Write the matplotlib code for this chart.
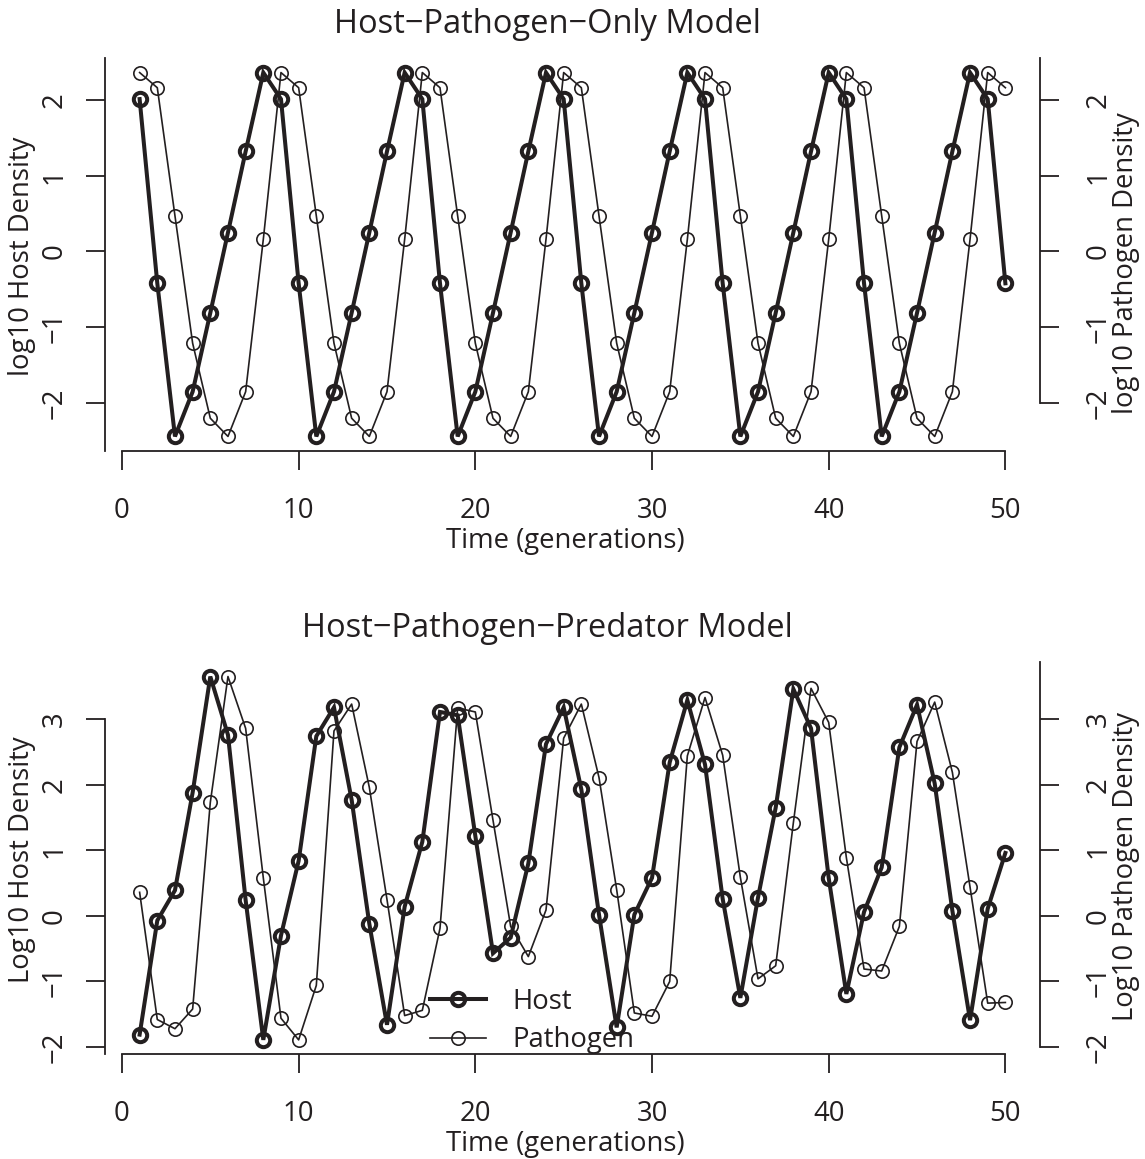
import matplotlib
matplotlib.use("Agg")
import matplotlib.pyplot as plt

plt.rcParams['font.family'] = ['Open Sans', 'DejaVu Sans']
plt.rcParams['axes.unicode_minus'] = True

INK = '#231f20'

# ---------------- data ----------------
time = list(range(1, 51))

# Host-Pathogen-Only model (log10 densities)
hp_host = [2.01, -0.42, -2.44, -1.85, -0.81, 0.25, 1.32, 2.36,
           2.01, -0.42, -2.44, -1.85, -0.81, 0.25, 1.32, 2.36,
           2.01, -0.42, -2.44, -1.85, -0.81, 0.25, 1.32, 2.36,
           2.01, -0.42, -2.44, -1.85, -0.81, 0.25, 1.32, 2.36,
           2.01, -0.42, -2.44, -1.85, -0.81, 0.25, 1.32, 2.36,
           2.01, -0.42, -2.44, -1.85, -0.81, 0.25, 1.32, 2.36,
           2.01, -0.42]
hp_pathogen = [2.36, 2.16, 0.47, -1.21, -2.20, -2.44, -1.85, 0.16,
               2.36, 2.16, 0.47, -1.21, -2.20, -2.44, -1.85, 0.16,
               2.36, 2.16, 0.47, -1.21, -2.20, -2.44, -1.85, 0.16,
               2.36, 2.16, 0.47, -1.21, -2.20, -2.44, -1.85, 0.16,
               2.36, 2.16, 0.47, -1.21, -2.20, -2.44, -1.85, 0.16,
               2.36, 2.16, 0.47, -1.21, -2.20, -2.44, -1.85, 0.16,
               2.36, 2.16]

# Host-Pathogen-Predator model (log10 densities)
hpp_host = [-1.81, -0.07, 0.39, 1.88, 3.65, 2.76, 0.24, -1.89, -0.30, 0.84,
            2.74, 3.18, 1.77, -0.12, -1.66, 0.14, 1.13, 3.11, 3.06, 1.22,
            -0.57, -0.33, 0.80, 2.62, 3.18, 1.93, 0.02, -1.70, 0.02, 0.58,
            2.34, 3.29, 2.31, 0.26, -1.25, 0.28, 1.65, 3.46, 2.86, 0.58,
            -1.19, 0.06, 0.74, 2.57, 3.22, 2.02, 0.08, -1.59, 0.11, 0.96]
hpp_pathogen = [0.36, -1.58, -1.72, -1.42, 1.73, 3.65, 2.86, 0.58, -1.56, -1.89,
                -1.06, 2.82, 3.23, 1.96, 0.25, -1.52, -1.44, -0.19, 3.17, 3.11,
                1.46, -0.16, -0.62, 0.09, 2.71, 3.23, 2.11, 0.40, -1.48, -1.53,
                -1.00, 2.44, 3.33, 2.45, 0.59, -0.96, -0.76, 1.42, 3.47, 2.95,
                0.89, -0.81, -0.84, -0.16, 2.66, 3.26, 2.19, 0.44, -1.33, -1.32]

panels = [
    dict(title='Host\u2212Pathogen\u2212Only Model', host=hp_host, path=hp_pathogen,
         ylab_l='log10 Host Density', ylab_r='log10 Pathogen Density',
         yticks=[-2, -1, 0, 1, 2], legend=False),
    dict(title='Host\u2212Pathogen\u2212Predator Model', host=hpp_host, path=hpp_pathogen,
         ylab_l='Log10 Host Density', ylab_r='Log10 Pathogen Density',
         yticks=[-2, -1, 0, 1, 2, 3], legend=True),
]
xticks = [0, 10, 20, 30, 40, 50]

# ---------------- figure ----------------
W, H = 1145, 1159
fig = plt.figure(figsize=(W / 100, H / 100), dpi=100)

# axes rectangles in pixels: (left, top, right, bottom)
rects = [(105, 58, 1040, 451), (105, 662, 1040, 1054.4)]

FS = 19.8
TFS = 23.5

def rlim(vals):
    lo, hi = min(vals), max(vals)
    pad = 0.04 * (hi - lo)
    return lo - pad, hi + pad

for p, (l, t, r, b) in zip(panels, rects):
    ax = fig.add_axes([l / W, 1 - b / H, (r - l) / W, (b - t) / H])
    axr = ax.twinx()
    xlo, xhi = rlim(time)
    ylo, yhi = rlim(p['host'])
    plo, phi = rlim(p['path'])
    ax.set_xlim(xlo, xhi)
    ax.set_ylim(ylo, yhi)
    axr.set_ylim(plo, phi)

    h_line, = ax.plot(time, p['host'], color=INK, lw=2.9, marker='o', ms=9.6,
                      mfc='none', mec=INK, mew=2.9, solid_joinstyle='miter')
    p_line, = axr.plot(time, p['path'], color=INK, lw=1.2, marker='o', ms=9.6,
                       mfc='none', mec=INK, mew=1.2)

    for a in (ax, axr):
        a.spines['top'].set_visible(False)
        for s in a.spines.values():
            s.set_color(INK)
            s.set_linewidth(1.3)
        a.tick_params(direction='out', length=14, width=1.3, color=INK,
                      labelcolor=INK, labelsize=FS)
    ax.spines['right'].set_visible(False)
    axr.spines['left'].set_visible(False)
    axr.spines['bottom'].set_visible(False)

    ax.set_xticks(xticks)
    ax.spines['bottom'].set_bounds(0, 50)
    ax.tick_params(axis='x', pad=19)

    ax.set_yticks(p['yticks'])
    axr.set_yticks(p['yticks'])
    if p['legend']:
        ax.spines['left'].set_bounds(ylo, max(p['yticks']))
    axr.spines['right'].set_bounds(min(p['yticks']), phi)

    ax.tick_params(axis='y', pad=12)
    axr.tick_params(axis='y', pad=18)
    for lab in ax.get_yticklabels():
        lab.set_rotation(90)
        lab.set_va('center')
    for lab in axr.get_yticklabels():
        lab.set_rotation(90)
        lab.set_va('center')

    ax.set_xlabel('Time (generations)', fontsize=FS, color=INK, va='center')
    ax.xaxis.set_label_coords(0.4925, -0.228)
    ax.set_ylabel(p['ylab_l'], fontsize=FS, color=INK, va='center', ha='center')
    ax.yaxis.set_label_coords(-0.089, 0.495)
    axr.set_ylabel(p['ylab_r'], fontsize=FS, color=INK, va='center', ha='center',
                   rotation=90)
    axr.yaxis.set_label_coords(1.0925, 0.478)

    ax.text(0.4733, 1.0865, p['title'], transform=ax.transAxes, ha='center',
            va='center', fontsize=TFS, color=INK)

    if p['legend']:
        axr.legend([h_line, p_line], ['Host', 'Pathogen'], frameon=False,
                   loc='center left', bbox_to_anchor=(0.3476, 0.0850),
                   borderpad=0, borderaxespad=0, handlelength=2.05,
                   handletextpad=0.93, labelspacing=0.38, fontsize=FS,
                   labelcolor=INK)

fig.savefig('out.png', dpi=100)
